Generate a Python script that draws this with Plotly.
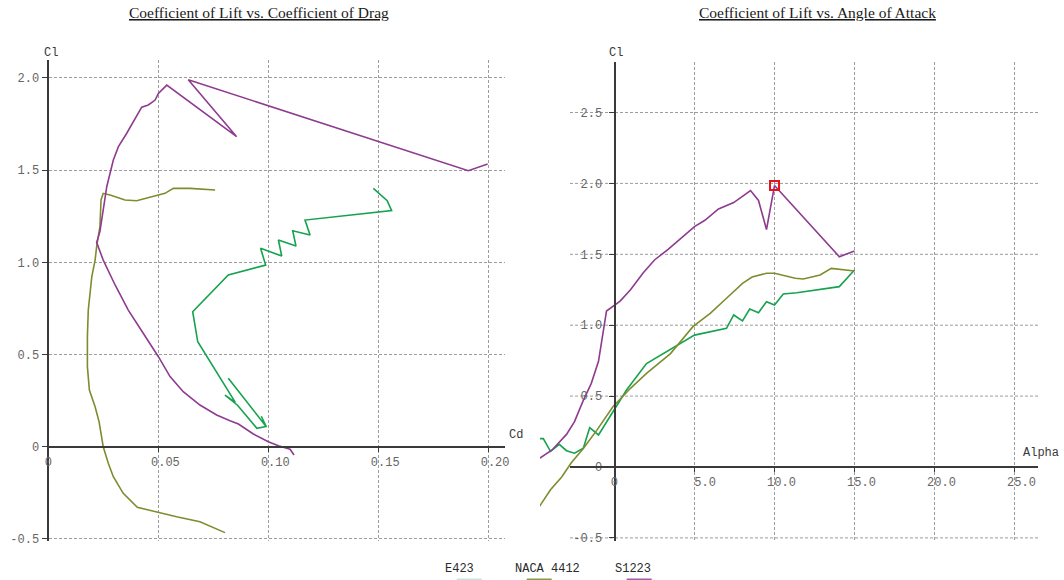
import plotly.graph_objects as go

# ---------------- data ----------------
# Drag polar (Cd, Cl) for each airfoil
s1223_polar_cd = [0.1117, 0.1099, 0.1046, 0.1000, 0.0932, 0.0864, 0.0826, 0.0765, 0.0689,
                  0.0613, 0.0553, 0.0500, 0.0431, 0.0363, 0.0303, 0.0249, 0.0219, 0.0234,
                  0.0265, 0.0295, 0.0318, 0.0356, 0.0424, 0.0454, 0.0485, 0.0500, 0.0538,
                  0.0856, 0.0636, 0.1910, 0.1998]
s1223_polar_cl = [-0.045, -0.014, 0.005, 0.027, 0.069, 0.123, 0.141, 0.172, 0.226,
                  0.298, 0.380, 0.488, 0.615, 0.741, 0.877, 1.012, 1.108, 1.166,
                  1.410, 1.555, 1.627, 1.700, 1.841, 1.853, 1.880, 1.916, 1.961,
                  1.681, 1.990, 1.497, 1.533]

naca_polar_cd = [0.0803, 0.0689, 0.0583, 0.0477, 0.0404, 0.0340, 0.0295, 0.0272, 0.0249,
                 0.0230, 0.0212, 0.0186, 0.0177, 0.0177, 0.0181, 0.0197, 0.0212, 0.0219,
                 0.0234, 0.0239, 0.0249, 0.0280, 0.0348, 0.0401, 0.0447, 0.0500, 0.0530,
                 0.0568, 0.0644, 0.0758]
naca_polar_cl = [-0.466, -0.407, -0.380, -0.352, -0.329, -0.253, -0.163, -0.090, 0.000,
                 0.136, 0.217, 0.307, 0.434, 0.597, 0.741, 0.922, 1.012, 1.085,
                 1.193, 1.338, 1.374, 1.365, 1.338, 1.334, 1.347, 1.365, 1.374,
                 1.401, 1.401, 1.392]

e423_polar_cd = [0.0818, 0.0990, 0.0968, 0.0990, 0.0948, 0.0860, 0.0803, 0.0850, 0.0679,
                 0.0656, 0.0818, 0.0988, 0.0965, 0.1061, 0.1046, 0.1126, 0.1111, 0.1190,
                 0.1167, 0.1500, 0.1561, 0.1541, 0.1478]
e423_polar_cl = [0.371, 0.110, 0.165, 0.110, 0.100, 0.225, 0.280, 0.240, 0.569,
                 0.732, 0.931, 0.985, 1.076, 1.034, 1.121, 1.088, 1.171, 1.148,
                 1.229, 1.274, 1.280, 1.334, 1.401]

# Lift curves (alpha in degrees, Cl)
s1223_alpha = [-4.7, -3.9, -3.0, -2.5, -1.95, -1.45, -1.0, -0.5, 0.35, 1.0, 1.8, 2.5,
               3.35, 4.2, 5.0, 5.65, 6.5, 7.45, 8.5, 9.0, 9.5, 10.0, 14.05, 15.0]
s1223_cl = [0.06, 0.12, 0.23, 0.32, 0.47, 0.59, 0.745, 1.10, 1.17, 1.25, 1.37, 1.46,
            1.535, 1.62, 1.695, 1.74, 1.82, 1.865, 1.95, 1.88, 1.675, 1.985, 1.483, 1.523]

naca_alpha = [-4.7, -4.0, -3.3, -2.7, -1.95, -1.1, -0.1, 1.0, 2.0, 3.5, 4.9, 6.0, 7.0,
              8.0, 8.6, 9.5, 10.0, 10.5, 11.3, 11.8, 12.4, 12.85, 13.55, 14.5, 15.0]
naca_cl = [-0.28, -0.16, -0.07, 0.03, 0.13, 0.26, 0.425, 0.555, 0.66, 0.80, 0.99, 1.085,
           1.19, 1.295, 1.34, 1.366, 1.366, 1.354, 1.331, 1.326, 1.342, 1.354, 1.401,
           1.389, 1.382]

e423_alpha = [-4.7, -4.45, -4.0, -3.45, -3.0, -2.5, -1.95, -1.55, -1.0, -0.05, 0.75, 2.0,
              3.25, 5.0, 7.0, 7.45, 8.0, 8.45, 9.0, 9.5, 10.0, 10.55, 11.4, 14.05, 15.0]
e423_cl = [0.20, 0.20, 0.11, 0.16, 0.115, 0.097, 0.132, 0.277, 0.226, 0.40, 0.543, 0.73,
           0.813, 0.93, 0.978, 1.072, 1.03, 1.114, 1.088, 1.166, 1.142, 1.22, 1.229,
           1.272, 1.389]

# Axis ticks
polar_x_ticks = [0, 0.05, 0.10, 0.15, 0.20]
polar_x_labels = ["0\u00a0\u00a0", "0.05", "0.10", "0.15", "0.20"]
polar_y_ticks = [-0.5, 0, 0.5, 1.0, 1.5, 2.0]
polar_y_labels = ["-0.5", "0", "0.5", "1.0", "1.5", "2.0"]
alpha_x_ticks = [0, 5, 10, 15, 20, 25]
alpha_x_labels = ["0\u00a0\u00a0", "\u00a05.0", "10.0", "15.0", "20.0", "25.0"]
alpha_y_ticks = [-0.5, 0, 0.5, 1.0, 1.5, 2.0, 2.5]
alpha_y_labels = ["-0.5", "0", "0.5", "1.0", "1.5", "2.0", "2.5"]

series_names = ["E423", "NACA 4412", "S1223"]
series_colors = ["#16a24e", "#7f8c2e", "#8e3b90"]
legend_swatch_colors = ["#c4e4de", "#8a9a48", "#a45aa6"]

# ---------------- layout helpers ----------------
W, H = 1064, 580


def pxx(x):
    return x / W


def pxy(y):
    return (H - y) / H


MONO = "Liberation Mono, Courier New, monospace"
SERIF = "Liberation Serif, Times New Roman, serif"
GRID = "#9c9c9c"
AXIS = "#3a3a3a"
TICKFONT = dict(family=MONO, size=12, color="#666666")

# Left panel geometry (pixels)
L_X0, L_X1 = 48.5, 505.0
L_CD_MAX = (L_X1 - L_X0) / 2198.0
L_ZERO_Y, L_PX_PER_CL = 446.7, 184.4
L_TOP, L_BOT = 60.0, 540.7
L_CL_MAX = (L_ZERO_Y - L_TOP) / L_PX_PER_CL
L_CL_MIN = (L_ZERO_Y - L_BOT) / L_PX_PER_CL

# Right panel geometry (pixels)
R_X0, R_X1 = 540.0, 1038.0
R_ZERO_X, R_PX_PER_DEG = 614.5, 16.0
R_A_MIN = (R_X0 - R_ZERO_X) / R_PX_PER_DEG
R_A_MAX = (R_X1 - R_ZERO_X) / R_PX_PER_DEG
R_GRID_START = (570.0 - R_ZERO_X) / R_PX_PER_DEG
R_ZERO_Y, R_PX_PER_CL = 467.0, 141.8
R_TOP, R_BOT = 61.7, 540.5
R_CL_MAX = (R_ZERO_Y - R_TOP) / R_PX_PER_CL
R_CL_MIN = (R_ZERO_Y - R_BOT) / R_PX_PER_CL

fig = go.Figure()

polar_data = [(e423_polar_cd, e423_polar_cl), (naca_polar_cd, naca_polar_cl),
              (s1223_polar_cd, s1223_polar_cl)]
lift_data = [(e423_alpha, e423_cl), (naca_alpha, naca_cl), (s1223_alpha, s1223_cl)]

for name, color, (cd, cl) in zip(series_names, series_colors, polar_data):
    fig.add_trace(go.Scatter(x=cd, y=cl, mode="lines", name=name, showlegend=False,
                             line=dict(color=color, width=1.6), xaxis="x", yaxis="y",
                             hoverinfo="skip"))

for name, color, (a, cl) in zip(series_names, series_colors, lift_data):
    fig.add_trace(go.Scatter(x=a, y=cl, mode="lines", name=name, showlegend=False,
                             line=dict(color=color, width=1.6), xaxis="x2", yaxis="y2",
                             hoverinfo="skip"))

# highlighted maximum-lift point of S1223
i_max = max(range(len(s1223_cl)), key=lambda i: s1223_cl[i])
fig.add_trace(go.Scatter(x=[s1223_alpha[i_max]], y=[s1223_cl[i_max]], mode="markers",
                         showlegend=False, xaxis="x2", yaxis="y2", hoverinfo="skip",
                         marker=dict(symbol="square-open", size=9, color="#e8141c",
                                     line=dict(width=2, color="#e8141c"))))

axis_common = dict(showgrid=True, gridcolor=GRID, gridwidth=1, griddash="3px,2px",
                   zeroline=False, ticks="outside", tickcolor=AXIS, tickwidth=1,
                   tickfont=TICKFONT, fixedrange=True, automargin=False)

fig.update_layout(
    width=W, height=H, margin=dict(l=0, r=0, t=0, b=0, pad=0, autoexpand=False),
    paper_bgcolor="white", plot_bgcolor="white", showlegend=False,
    xaxis=dict(domain=[pxx(L_X0), pxx(L_X1)], range=[0, L_CD_MAX],
               anchor="free", position=pxy(L_ZERO_Y),
               tickmode="array", tickvals=polar_x_ticks, ticktext=polar_x_labels,
               showline=True, linecolor=AXIS, linewidth=2, ticklen=4,
               ticklabelshift=7, **axis_common),
    yaxis=dict(domain=[pxy(L_BOT), pxy(L_TOP)], range=[L_CL_MIN, L_CL_MAX],
               anchor="x", tickmode="array", tickvals=polar_y_ticks,
               ticktext=polar_y_labels, showline=True, linecolor=AXIS, linewidth=2,
               ticklen=5, **axis_common),
    xaxis2=dict(domain=[pxx(R_X0), pxx(R_X1)], range=[R_A_MIN, R_A_MAX],
                anchor="free", position=pxy(R_ZERO_Y),
                tickmode="array", tickvals=alpha_x_ticks, ticktext=alpha_x_labels,
                showline=False, ticklen=4, ticklabelshift=7, **axis_common),
    yaxis2=dict(domain=[pxy(R_BOT), pxy(R_TOP)], range=[R_CL_MIN, R_CL_MAX],
                anchor="free", position=pxx(R_ZERO_X),
                tickmode="array", tickvals=alpha_y_ticks, ticktext=alpha_y_labels,
                showline=True, linecolor=AXIS, linewidth=2, ticklen=5,
                ticklabelstandoff=4,
                **{k: v for k, v in axis_common.items() if k != "showgrid"},
                showgrid=False),
)

# horizontal grid and x axis line of the lift-curve panel
shapes = []
for v in alpha_y_ticks:
    if v == 0:
        continue
    shapes.append(dict(type="line", xref="x2", yref="y2", x0=R_GRID_START, x1=R_A_MAX,
                       y0=v, y1=v, layer="below",
                       line=dict(color=GRID, width=1, dash="3px,2px")))
shapes.append(dict(type="line", xref="x2", yref="y2", x0=R_GRID_START, x1=R_A_MAX,
                   y0=0, y1=0, layer="above", line=dict(color=AXIS, width=2)))

# legend swatches along the bottom edge
swatch_x = [456.7, 526.7, 626.7]
for x0, c in zip(swatch_x, legend_swatch_colors):
    shapes.append(dict(type="rect", xref="paper", yref="paper", x0=pxx(x0),
                       x1=pxx(x0 + 25), y0=pxy(578.5), y1=pxy(586), layer="above",
                       line=dict(width=0), fillcolor=c))
fig.update_layout(shapes=shapes)

annotations = [
    dict(text="<u>Coefficient of Lift vs. Coefficient of Drag</u>", x=pxx(258.5), y=pxy(13),
         font=dict(family=SERIF, size=15.5, color="#1a1a1a")),
    dict(text="<u>Coefficient of Lift vs. Angle of Attack</u>", x=pxx(817), y=pxy(13),
         font=dict(family=SERIF, size=15.5, color="#1a1a1a")),
    dict(text="Cl", x=pxx(51), y=pxy(53), font=dict(family=MONO, size=12, color="#3a3a3a")),
    dict(text="Cd", x=pxx(516), y=pxy(435), font=dict(family=MONO, size=12, color="#3a3a3a")),
    dict(text="Cl", x=pxx(616), y=pxy(53), font=dict(family=MONO, size=12, color="#3a3a3a")),
    dict(text="Alpha", x=pxx(1041), y=pxy(453),
         font=dict(family=MONO, size=12, color="#3a3a3a")),
]
legend_text_x = [459, 547.5, 632.5]
for name, x in zip(series_names, legend_text_x):
    annotations.append(dict(text=name, x=pxx(x), y=pxy(569),
                            font=dict(family=MONO, size=12, color="#2a2a2a")))
for a in annotations:
    a.update(xref="paper", yref="paper", showarrow=False, xanchor="center",
             yanchor="middle")
fig.update_layout(annotations=annotations)

# keep the page itself flush with the figure (no body margin or scrollbars)
page_css = ("document.documentElement.style.margin='0';"
            "document.body.style.margin='0';"
            "document.body.style.overflow='hidden';")
fig.write_html("out.html", post_script=page_css)
